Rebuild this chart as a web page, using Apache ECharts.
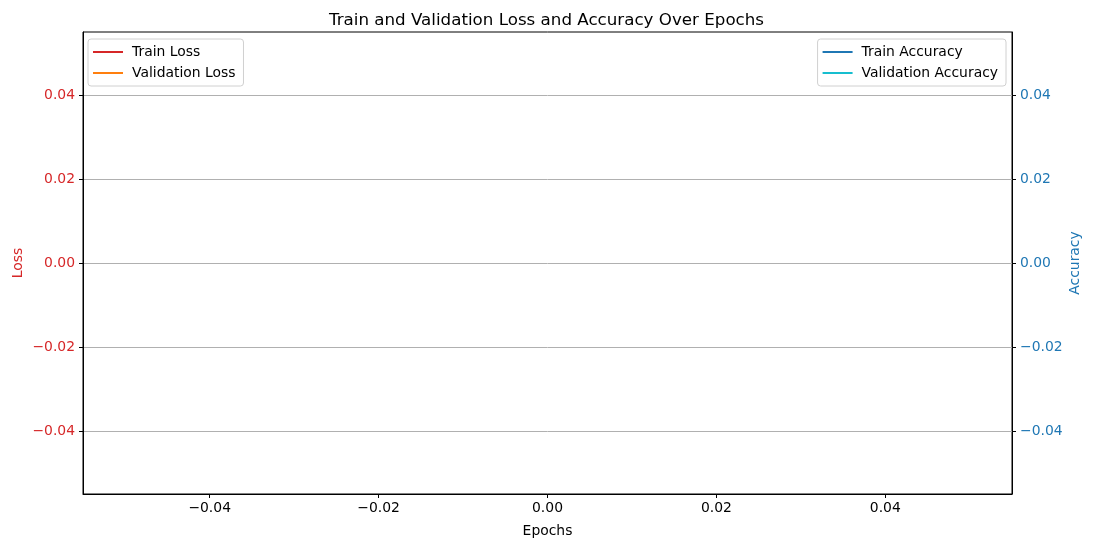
<!DOCTYPE html>
<html>
<head>
<meta charset="utf-8">
<script src="https://cdn.jsdelivr.net/npm/echarts@6/dist/echarts.min.js"></script>
<style>html,body{margin:0;padding:0;background:#fff;}#c{width:1093px;height:547px;}</style>
</head>
<body>
<div id="c"></div>
<script>
const epochs = [];
const trainLoss = [];
const valLoss = [];
const trainAcc = [];
const valAcc = [];
const xTicks = [-0.04, -0.02, 0.00, 0.02, 0.04];
const yTicks = [-0.04, -0.02, 0.00, 0.02, 0.04];
const axisMin = -0.055, axisMax = 0.055;

const fmt = v => v.toFixed(2).replace('-', '\u2212');
const font = 'DejaVu Sans';
const fs = 13.9;
const red = '#d62728', blue = '#1f77b4';

const pair = (xs, ys) => xs.map((x, i) => [x, ys[i]]);

const legendBase = {
  orient: 'vertical', top: 39, icon: 'rect',
  itemWidth: 30, itemHeight: 2, itemGap: 7,
  padding: [6, 8, 6, 5],
  backgroundColor: '#fff', borderColor: '#d0d0d0', borderWidth: 1, borderRadius: 3,
  textStyle: { fontFamily: font, fontSize: fs, color: '#000', padding: [0, 0, 0, 4] }
};

const chart = echarts.init(document.getElementById('c'));
chart.setOption({
  animation: false,
  textStyle: { fontFamily: font },
  title: {
    text: 'Train and Validation Loss and Accuracy Over Epochs',
    left: 'center', top: 7,
    textStyle: { fontFamily: font, fontSize: 16.7, fontWeight: 'normal', color: '#000' }
  },
  grid: { left: 83, right: 81, top: 32, bottom: 53, outerBoundsMode: 'none', containLabel: false, show: true, borderColor: '#000', borderWidth: 1, backgroundColor: 'transparent' },
  legend: [
    Object.assign({}, legendBase, { data: ['Train Loss', 'Validation Loss'], left: 88 }),
    Object.assign({}, legendBase, { data: ['Train Accuracy', 'Validation Accuracy'], right: 87 })
  ],
  xAxis: {
    type: 'value', min: axisMin, max: axisMax,
    name: 'Epochs', nameLocation: 'middle', nameGap: 30, nameMoveOverlap: false,
    nameTextStyle: { fontFamily: font, fontSize: fs, color: '#000' },
    axisLine: { show: true, onZero: false, lineStyle: { color: '#000' } },
    axisTick: { show: true, customValues: xTicks, length: 4, lineStyle: { color: '#000' } },
    axisLabel: { customValues: xTicks, formatter: fmt, fontFamily: font, fontSize: fs, color: '#000', margin: 7 },
    splitLine: { show: false }
  },
  yAxis: [
    {
      type: 'value', position: 'left', min: axisMin, max: axisMax,
      name: 'Loss', nameLocation: 'middle', nameGap: 58, nameMoveOverlap: false,
      nameTextStyle: { fontFamily: font, fontSize: fs, color: red },
      axisLine: { show: true, onZero: false, lineStyle: { color: '#000' } },
      axisTick: { show: true, customValues: yTicks, length: 4, lineStyle: { color: '#000' } },
      axisLabel: { customValues: yTicks, formatter: fmt, fontFamily: font, fontSize: fs, color: red, margin: 8 },
      splitLine: { show: true, customValues: yTicks, lineStyle: { color: '#b0b0b0', width: 1 } }
    },
    {
      type: 'value', position: 'right', min: axisMin, max: axisMax,
      name: 'Accuracy', nameLocation: 'middle', nameGap: 56, nameRotate: 90, nameMoveOverlap: false,
      nameTextStyle: { fontFamily: font, fontSize: fs, color: blue },
      axisLine: { show: true, onZero: false, lineStyle: { color: '#000' } },
      axisTick: { show: true, customValues: yTicks, length: 4, lineStyle: { color: '#000' } },
      axisLabel: { customValues: yTicks, formatter: fmt, fontFamily: font, fontSize: fs, color: blue, margin: 8 },
      splitLine: { show: false }
    }
  ],
  series: [
    { name: 'Train Loss', type: 'line', yAxisIndex: 0, symbol: 'none', color: red, lineStyle: { width: 2 }, data: pair(epochs, trainLoss) },
    { name: 'Validation Loss', type: 'line', yAxisIndex: 0, symbol: 'none', color: '#ff7f0e', lineStyle: { width: 2 }, data: pair(epochs, valLoss) },
    { name: 'Train Accuracy', type: 'line', yAxisIndex: 1, symbol: 'none', color: blue, lineStyle: { width: 2 }, data: pair(epochs, trainAcc) },
    { name: 'Validation Accuracy', type: 'line', yAxisIndex: 1, symbol: 'none', color: '#17becf', lineStyle: { width: 2 }, data: pair(epochs, valAcc) }
  ]
});
</script>
</body>
</html>
